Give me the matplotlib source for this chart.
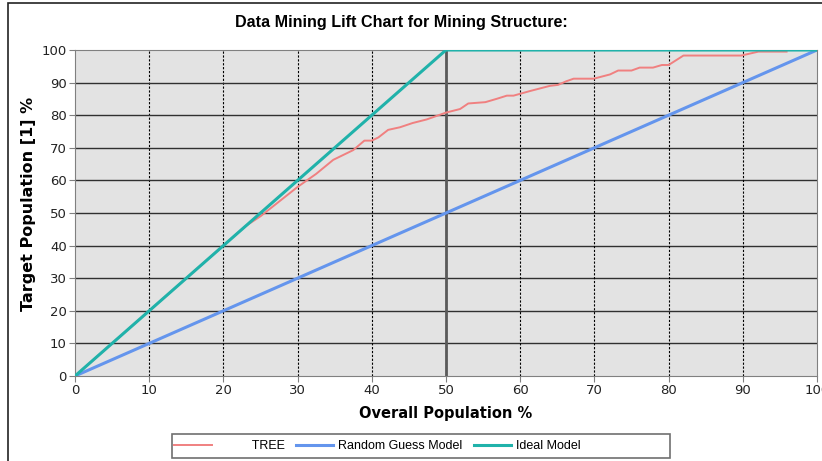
import matplotlib.pyplot as plt
from matplotlib.patches import Rectangle

# lift chart data
tree_x = [0, 10, 20, 23, 25, 27.5, 30, 32.5, 34.8, 37.5, 39, 40, 40.9, 42.2, 43.8,
          45.5, 47.4, 50, 51.9, 53, 55.3, 56.8, 58.2, 59.1, 61.3, 64, 65.1, 66.2,
          67.2, 69.9, 72.1, 73.2, 75, 76.1, 77.9, 79.1, 80, 82, 89.8, 92.1, 95.9]
tree_y = [0, 20, 40, 46, 49, 53.5, 58, 62, 66.3, 69.3, 72.2, 72.2, 73.2, 75.5, 76.3,
          77.6, 78.7, 80.8, 81.9, 83.6, 84, 85, 86, 86, 87.4, 89, 89.3, 90.4,
          91.2, 91.2, 92.5, 93.7, 93.7, 94.6, 94.6, 95.4, 95.4, 98.3, 98.3, 99.5, 99.5]
random_x = [0, 100]
random_y = [0, 100]
ideal_x = [0, 50, 100]
ideal_y = [0, 100, 100]
ticks = list(range(0, 101, 10))

fig = plt.figure(figsize=(8.22, 4.61), dpi=100)
ax = fig.add_axes([75/822, 1-376/461, (817-75)/822, (376-50)/461])
ax.set_facecolor('#e3e3e3')

# label of the tree series is padded like in the original control
ax.plot(tree_x, tree_y, color='#f08080', lw=1.4, label='          TREE', zorder=3)
ax.plot(random_x, random_y, color='#6495ed', lw=2.2, label='Random Guess Model', zorder=3)
ax.plot(ideal_x, ideal_y, color='#20b2aa', lw=2.2, label='Ideal Model', zorder=4)

ax.set_xlim(0, 100)
ax.set_ylim(0, 100)
ax.set_xticks(ticks)
ax.set_yticks(ticks)
for t in ticks[1:-1]:
    ax.axhline(t, color='#303030', lw=1, zorder=1)
    ax.axvline(t, color='black', lw=0.8, ls=(0, (2, 1.5)), zorder=1)
ax.axvline(50, color='#5a5a5a', lw=2, zorder=2)

for s in ax.spines.values():
    s.set_color('#808080')
ax.tick_params(direction='out', length=4, color='#808080', labelsize=9.5,
               labelcolor='#222222', pad=2)

ax.set_xlabel('Overall Population %', fontsize=10.5, fontweight='bold', labelpad=6)
ax.set_ylabel('Target Population [1] %', fontsize=11.5, fontweight='bold')
ax.yaxis.set_label_coords(-0.052, 0.529)
fig.text(401/822, 1-22/461, 'Data Mining Lift Chart for Mining Structure:',
         ha='center', va='center', fontsize=11.6, fontweight='bold',
         family='Liberation Sans')

# outer border of the chart control
fig.patches.append(Rectangle((8/822, -0.01), 1.0, 1-3/461+0.01, transform=fig.transFigure,
                             fill=False, edgecolor='#222222', lw=1.2))

# legend box
fig.patches.append(Rectangle((172/822, 1-458/461), 498/822, 24/461, transform=fig.transFigure,
                             fill=False, edgecolor='#707070', lw=1.2))
fig.legend(loc='center left', ncol=3, frameon=False,
           bbox_to_anchor=(174/822, 1-446/461),
           handlelength=3.0, handletextpad=0.4, columnspacing=0.9,
           prop={'family': 'Liberation Sans', 'size': 9}, borderaxespad=0, borderpad=0)

fig.savefig('out.png', dpi=100)
